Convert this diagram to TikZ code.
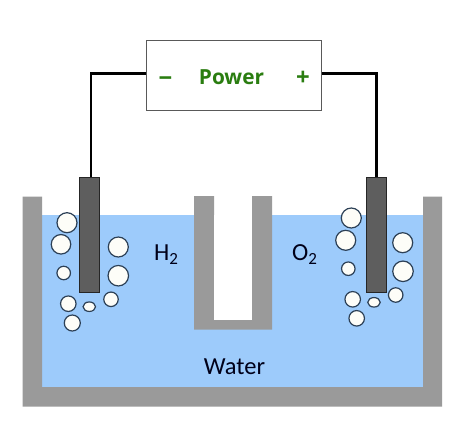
\documentclass[tikz,border=0pt]{standalone}
\usepackage{fontspec}
\setmainfont{Carlito}
\newfontfamily\powerfont{Open Sans}
\usetikzlibrary{shapes.geometric}
\definecolor{wall}{HTML}{9A9A9A}
\definecolor{water}{HTML}{9DCBFB}
\definecolor{rod}{HTML}{5E5E5E}
\definecolor{pgreen}{HTML}{2A7D10}
\definecolor{bubfill}{HTML}{FDFDF8}
\definecolor{bubline}{HTML}{2C4056}
\tikzset{
  bub/.style={ellipse,draw=bubline,line width=1.2pt,fill=bubfill,inner sep=0pt},
  rodbox/.style={draw=black!85,line width=0.9pt,fill=rod,inner sep=0pt,minimum width=19.5pt,minimum height=115.5pt},
  wire/.style={draw=black,line width=2.4pt,line cap=butt,line join=miter},
  lab/.style={font=\fontsize{24.5}{28}\selectfont,text=black!90!blue,inner sep=0pt},
  plab/.style={font=\powerfont\bfseries\fontsize{20.8}{24}\selectfont,text=pgreen,inner sep=0pt},
  slab/.style={font=\powerfont\bfseries\fontsize{24}{28}\selectfont,text=pgreen,inner sep=0pt}
}
\newcommand{\bubble}[5]{\node[bub,minimum width=#4pt,minimum height=#5pt] (#1) at (#2,#3) {};}
\newcommand{\subtwo}{\raisebox{-4.5pt}{\fontsize{17}{20}\selectfont 2}}
\begin{document}
\begin{tikzpicture}[x=1pt,y=-1pt]
\useasboundingbox (0,0) rectangle (469,426);
\fill[white] (0,0) rectangle (469,426);
% tank
\fill[water] (42,215) rectangle (423,387);
\fill[wall] (22.5,196.5) -- (42,196.5) -- (42,387) -- (423,387) -- (423,196.5) -- (442,196.5) -- (442,406.5) -- (22.5,406.5) -- cycle;
% central tube
\fill[white] (194,196) rectangle (272,215);
\fill[wall] (194,196) -- (214,196) -- (214,320) -- (252,320) -- (252,196) -- (272,196) -- (272,329.5) -- (194,329.5) -- cycle;
\fill[white] (214,215) rectangle (252,320);
% electrodes
\node[rodbox] (rodL) at (89.2,235) {};
\node[rodbox] (rodR) at (376.5,235) {};
% power box
\node[draw=black!65,line width=1pt,fill=white,minimum width=175pt,minimum height=70pt,inner sep=0pt] (box) at (234.2,75) {};
\node[plab] (power) at (231.5,77) {Power};
\node[slab] (minus) at (165.5,81.5) {−};
\node[slab] (plus) at (303,78) {+};
% wires
\draw[wire] ([yshift=1.7pt]box.west) -| ([xshift=1.5pt]rodL.north);
\draw[wire] ([yshift=1.7pt]box.east) -| (rodR.north);
% bubbles
\bubble{a1}{67}{222.7}{20}{20}
\bubble{a2}{61}{244.3}{19.5}{19.5}
\bubble{a3}{118.3}{247}{20}{20}
\bubble{a4}{63.7}{273}{13.5}{13.5}
\bubble{a5}{118.3}{275.7}{20.5}{20.5}
\bubble{a6}{68.3}{303.7}{15.5}{15.5}
\bubble{a7}{89.3}{306.7}{12.5}{9.5}
\bubble{a8}{111}{299.3}{14.5}{14.5}
\bubble{a9}{72.3}{323}{16}{16}
\bubble{b1}{351.3}{218}{20}{20}
\bubble{b2}{345.7}{240.3}{20}{20}
\bubble{b3}{402.7}{242.7}{20}{20}
\bubble{b4}{348.3}{268.7}{13.5}{13.5}
\bubble{b5}{403}{271.3}{20.5}{20.5}
\bubble{b6}{352.7}{299.3}{15.5}{15.5}
\bubble{b7}{374}{302.3}{12.5}{9.5}
\bubble{b8}{395.7}{295}{14.5}{14.5}
\bubble{b9}{356.7}{318.3}{15.5}{15.5}
% labels
\node[lab] (h2) at (166,254.5) {H\subtwo};
\node[lab] (o2) at (304.5,254.5) {O\subtwo};
\node[lab] (wtr) at (234.5,367) {Water};
\end{tikzpicture}
\end{document}
